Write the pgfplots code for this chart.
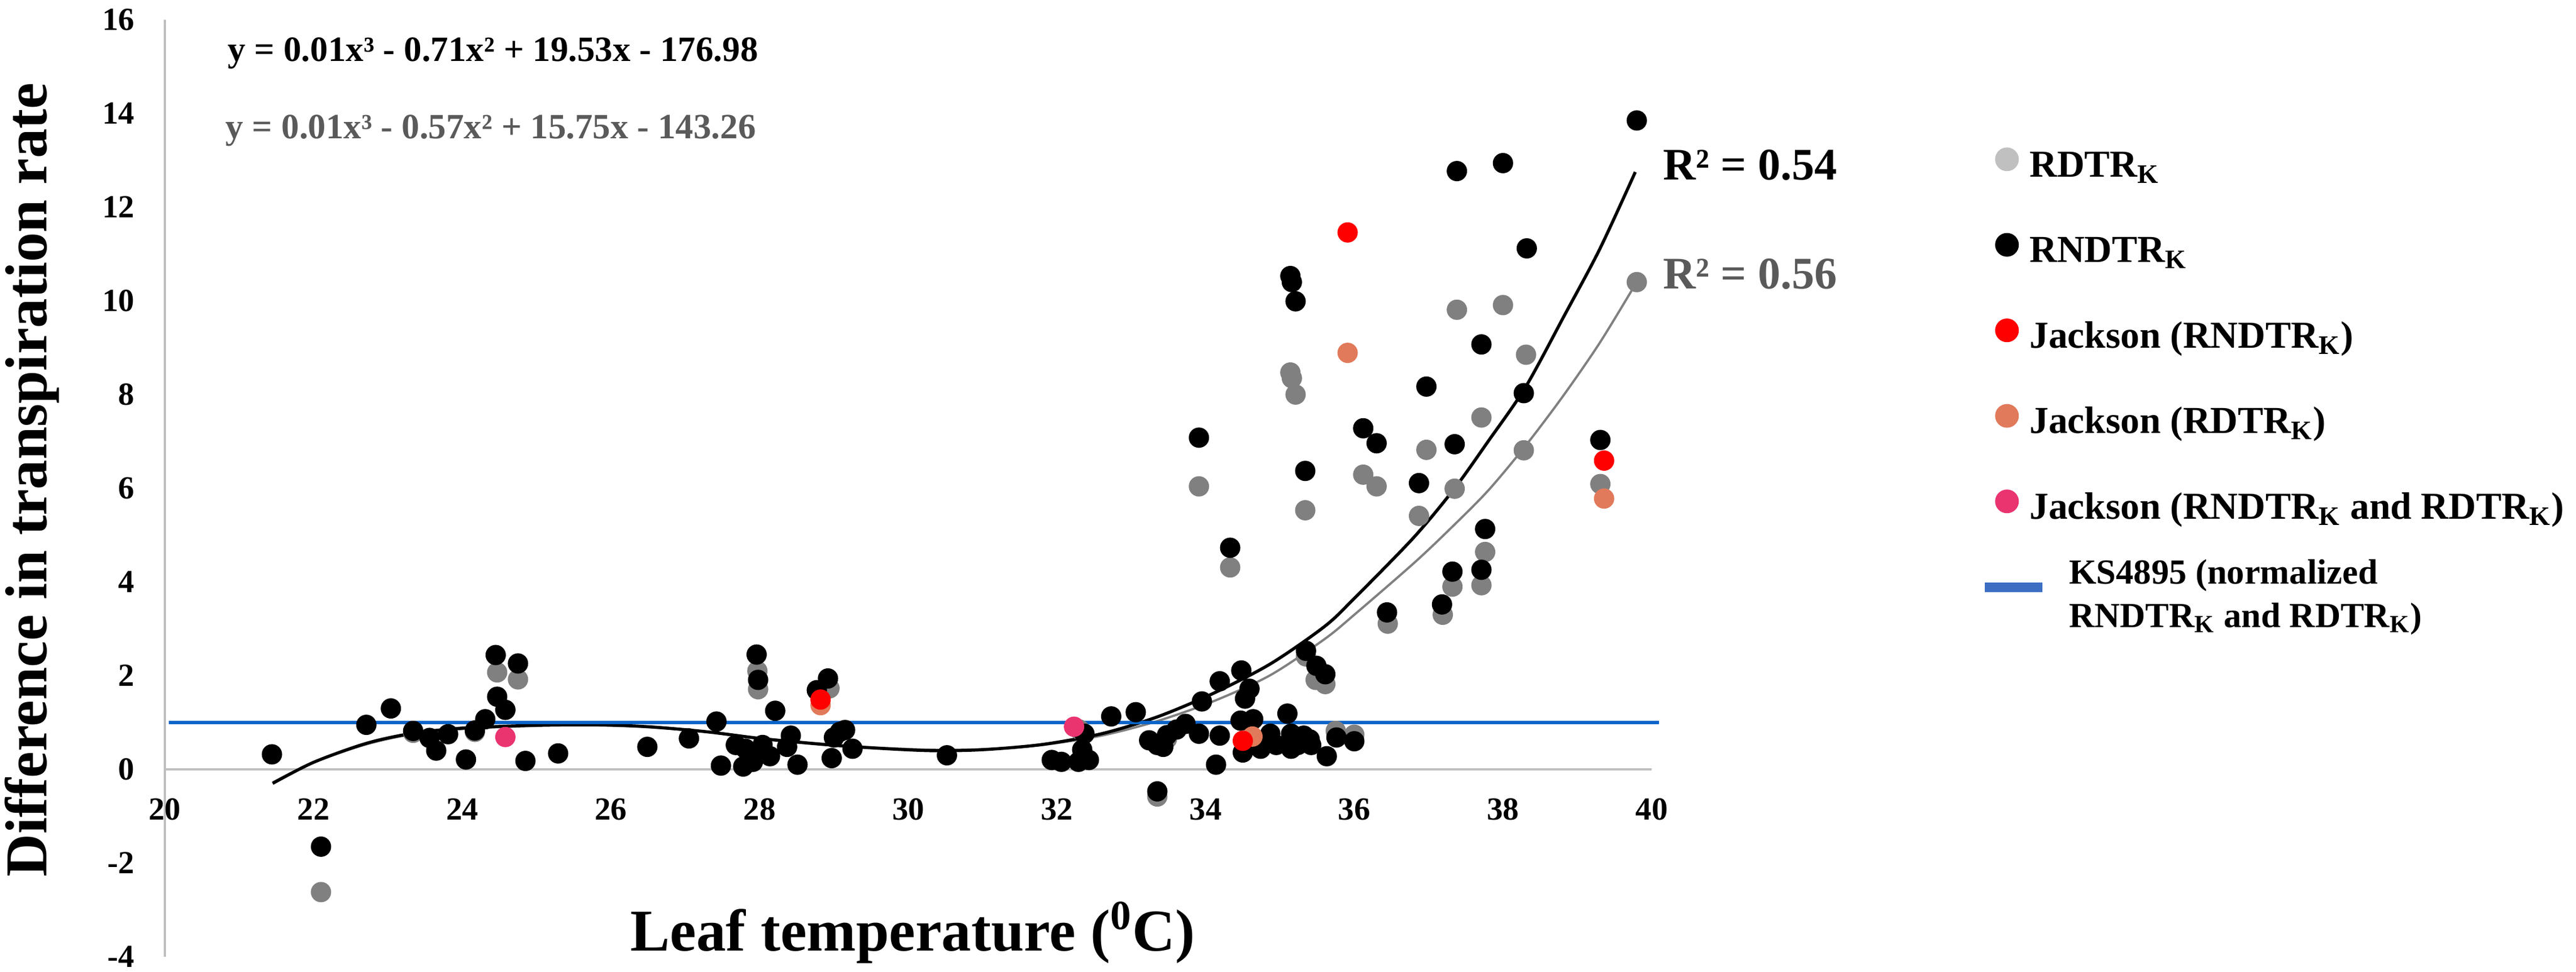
\documentclass[border=0pt]{standalone}
\usepackage{fontspec}
\setmainfont{Liberation Serif}
\usepackage{graphicx}
\usepackage{pgfplots}
\pgfplotsset{compat=1.18}

\definecolor{axisgray}{RGB}{191,191,191}
\definecolor{dotgray}{RGB}{128,128,128}
\definecolor{leggray}{RGB}{192,192,192}
\definecolor{ksblue}{RGB}{10,100,200}
\definecolor{kslegblue}{RGB}{60,110,196}
\definecolor{jred}{RGB}{255,0,0}
\definecolor{jorange}{RGB}{225,122,90}
\definecolor{jpink}{RGB}{233,52,112}
\definecolor{eqgray}{RGB}{90,90,90}

\newcommand{\lstrut}{\rule[-4pt]{0pt}{18pt}}

\begin{document}
\begin{tikzpicture}
\useasboundingbox (0,0) rectangle (912.4pt,344.4pt);
\begin{axis}[
  at={(58.4pt,5.4pt)}, anchor=south west,
  scale only axis, width=526.6pt, height=332pt,
  xmin=20, xmax=40, ymin=-4, ymax=16,
  axis x line=middle, axis y line=left,
  axis line style={-, draw=axisgray, line width=0.8pt},
  xtick={20,22,...,40}, ytick={-4,-2,...,16},
  major tick length=0pt,
  hide obscured x ticks=false, hide obscured y ticks=false,
  /pgf/number format/assume math mode=true,
  tick label style={font=\fontsize{11.4}{13}\selectfont\bfseries, inner sep=0pt},
  xticklabel style={anchor=base, yshift=-18pt},
  yticklabel style={anchor=east, xshift=-10.6pt},
  clip=false,
  legend cell align=left,
  legend style={draw=none, fill=none, inner sep=0pt,
    at={(axis description cs:1.231,0.875)}, anchor=north west,
    row sep=14.8pt, column sep=4pt, nodes={inner sep=0pt},
    font=\fontsize{13.5}{16}\selectfont\bfseries},
  legend image code/.code={\draw[mark repeat=2, mark phase=2, overlay, #1] plot coordinates {(-7.8pt,0pt) (0pt,0pt) (12.6pt,0pt)}; \path[draw=none, fill=none] (-4pt,-4pt) rectangle (4pt,4pt);},
]

% RDTR_K (gray)
\addplot[only marks, mark=*, mark size=3.4pt, color=dotgray, forget plot] coordinates {
(22.10,-2.62) (24.47,2.07) (24.75,1.92) (27.97,2.10) (27.98,1.71) (28.94,1.73)
(23.34,0.78) (24.17,0.80) (32.30,0.85) (34.60,1.00) (33.48,0.65)
(33.35,-0.58) (34.33,4.31) (35.14,8.47) (35.16,8.35) (35.21,8.00) (35.34,5.53)
(33.91,6.04) (36.12,6.29) (36.30,6.04) (36.87,5.41) (36.97,6.82) (37.35,5.99)
(37.38,9.81) (38.00,9.91) (38.31,8.85) (37.71,7.51) (38.28,6.81) (39.31,6.09)
(39.80,10.40) (37.76,4.64) (37.32,3.90) (37.71,3.93) (37.19,3.30) (36.45,3.11)
(35.35,2.41) (35.48,1.91) (35.61,1.82) (35.75,0.82) (36.00,0.74)
};

% RNDTR_K (black)
\addplot[only marks, mark=*, mark size=3.4pt, color=black, forget plot] coordinates {
(21.44,0.32) (22.10,-1.65) (22.71,0.95) (23.04,1.30) (23.34,0.82) (23.56,0.67)
(23.65,0.40) (23.81,0.75) (24.05,0.21) (24.17,0.83) (24.31,1.07) (24.45,2.44)
(24.47,1.55) (24.58,1.27) (24.75,2.26) (24.85,0.18) (25.29,0.34) (26.49,0.48)
(27.05,0.66) (27.42,1.02) (27.48,0.08) (27.68,0.52) (27.78,0.06) (27.81,0.44)
(27.91,0.16) (27.96,2.45) (27.98,1.91) (28.04,0.52) (28.14,0.28) (28.21,1.25)
(28.37,0.48) (28.42,0.72) (28.51,0.10) (28.77,1.69) (28.92,1.94) (28.97,0.24)
(29.00,0.68) (29.08,0.80) (29.15,0.84) (29.25,0.44) (30.52,0.30) (31.93,0.20)
(32.06,0.16) (32.29,0.16) (32.34,0.42) (32.43,0.20) (32.37,0.76) (32.73,1.13)
(33.06,1.22) (33.24,0.62) (33.35,0.52) (33.43,0.48) (33.48,0.73) (33.35,-0.47)
(33.61,0.85) (33.73,0.97) (33.91,0.76) (33.95,1.45) (33.91,7.08) (34.14,0.10)
(34.19,1.88) (34.19,0.72) (34.33,4.73) (34.47,1.04) (34.48,2.11) (34.50,0.36)
(34.53,1.51) (34.59,1.72) (34.64,1.07) (34.74,0.44) (34.87,0.76) (34.95,0.52)
(35.10,1.19) (35.14,10.53) (35.16,10.40) (35.21,9.99) (35.15,0.76) (35.15,0.44)
(35.24,0.52) (35.32,0.72) (35.34,6.37) (35.35,2.53) (35.40,0.64) (35.42,0.52)
(35.49,2.21) (35.61,2.03) (35.63,0.28) (35.76,0.68) (36.00,0.60) (36.12,7.28)
(36.30,6.96) (36.44,3.35) (36.87,6.11) (36.97,8.17) (37.18,3.52) (37.32,4.22)
(37.35,6.94) (37.38,12.77) (37.71,4.26) (37.71,9.07) (37.76,5.13) (38.00,12.94)
(38.28,8.03) (38.32,11.12) (39.31,7.03) (39.80,13.85)
};

% Jackson (RDTR_K)
\addplot[only marks, mark=*, mark size=3.4pt, color=jorange, forget plot] coordinates {
(35.91,8.89) (39.36,5.78) (28.82,1.37) (34.63,0.70)
};
% Jackson (RNDTR_K)
\addplot[only marks, mark=*, mark size=3.4pt, color=jred, forget plot] coordinates {
(35.91,11.46) (39.36,6.59) (28.82,1.49) (34.50,0.61)
};
% Jackson (both)
\addplot[only marks, mark=*, mark size=3.4pt, color=jpink, forget plot] coordinates {
(24.58,0.69) (32.23,0.91)
};

% trend lines
\addplot[smooth, no markers, color=dotgray, line width=0.8pt, forget plot] coordinates {
(21.45,-0.28) (22.0,0.15) (22.7,0.53) (23.3,0.74) (24.0,0.86) (25.0,0.93)
(25.8,0.94) (26.5,0.90) (27.3,0.80) (28.0,0.67) (28.8,0.55) (29.5,0.47)
(30.3,0.42) (31.0,0.43) (31.8,0.52) (32.6,0.72) (33.35,1.03) (34.1,1.45)
(34.87,2.01) (35.6,2.78) (36.0,3.3) (36.8,4.4) (37.3,5.15) (37.8,5.95)
(38.3,6.9) (38.8,7.95) (39.3,9.1) (39.78,10.35)
};
\addplot[smooth, no markers, color=black, line width=1.1pt, forget plot] coordinates {
(21.45,-0.30) (22.0,0.15) (22.7,0.55) (23.3,0.76) (24.0,0.88) (25.0,0.94)
(25.8,0.95) (26.5,0.91) (27.3,0.80) (28.0,0.66) (28.8,0.54) (29.5,0.46)
(30.3,0.40) (31.0,0.42) (31.8,0.53) (32.6,0.76) (33.35,1.12) (34.1,1.62)
(34.87,2.25) (35.6,3.05) (36.0,3.65) (36.8,4.95) (37.35,6.0) (37.8,7.0)
(38.3,8.15) (38.83,9.7) (39.3,11.1) (39.78,12.75)
};

% KS4895
\addplot[no markers, color=ksblue, line width=1.3pt, forget plot] coordinates {(20.05,1) (40.1,1)};

% legend
\addlegendimage{only marks, mark=*, mark size=4pt, color=leggray}
\addlegendentry{\lstrut RDTR\textsubscript{K}}
\addlegendimage{only marks, mark=*, mark size=4pt, color=black}
\addlegendentry{\lstrut RNDTR\textsubscript{K}}
\addlegendimage{only marks, mark=*, mark size=4pt, color=jred}
\addlegendentry{\lstrut Jackson (RNDTR\textsubscript{K})}
\addlegendimage{only marks, mark=*, mark size=4pt, color=jorange}
\addlegendentry{\lstrut Jackson (RDTR\textsubscript{K})}
\addlegendimage{only marks, mark=*, mark size=4pt, color=jpink}
\addlegendentry{\lstrut Jackson (RNDTR\textsubscript{K} and RDTR\textsubscript{K})}
\addlegendimage{mark=none, color=kslegblue, line width=3.5pt}
\addlegendentry{\hspace*{14pt}\raisebox{0pt}[14.3pt][8.1pt]{\fontsize{12.5}{15.4}\selectfont\begin{tabular}[c]{@{}l@{}}KS4895 (normalized\\RNDTR\textsubscript{K} and RDTR\textsubscript{K})\end{tabular}}}

% texts
\node[anchor=west, inner sep=0pt, font=\fontsize{12.6}{14}\selectfont\bfseries] at (axis cs:20.84,15.28) {y = 0.01x³ - 0.71x² + 19.53x - 176.98};
\node[anchor=west, inner sep=0pt, text=eqgray, font=\fontsize{12.6}{14}\selectfont\bfseries] at (axis cs:20.81,13.63) {y = 0.01x³ - 0.57x² + 15.75x - 143.26};
\node[anchor=west, inner sep=0pt, font=\fontsize{16}{19}\selectfont\bfseries] at (axis cs:40.15,12.9) {R² = 0.54};
\node[anchor=west, inner sep=0pt, text=eqgray, font=\fontsize{16}{19}\selectfont\bfseries] at (axis cs:40.15,10.57) {R² = 0.56};
\node[anchor=base, inner sep=0pt, font=\fontsize{21}{25}\selectfont\bfseries] at (axis description cs:0.503,0.0066) {Leaf temperature (\textsuperscript{0}C)};
\node[anchor=center, rotate=90, inner sep=0pt, font=\fontsize{21}{25}\selectfont\bfseries] at (axis description cs:-0.0893,0.509) {Difference in transpiration rate};
\end{axis}
\end{tikzpicture}
\end{document}
